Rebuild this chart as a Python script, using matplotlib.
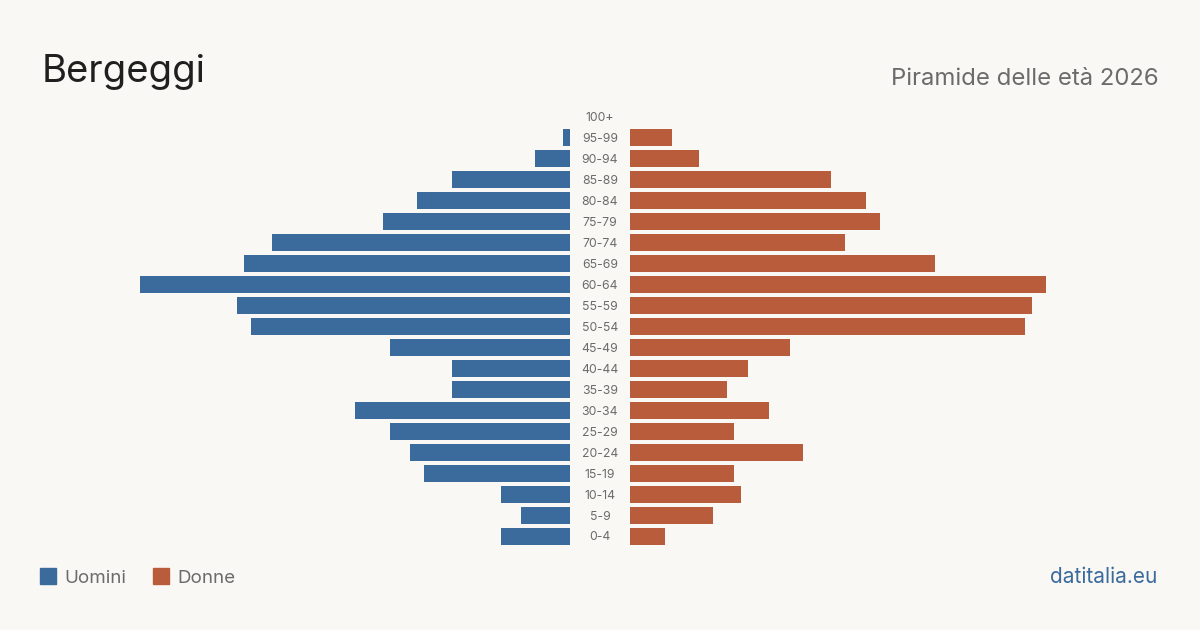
import matplotlib.pyplot as plt
from matplotlib.patches import Rectangle

# fasce d'età dal basso verso l'alto
fasce = ["0-4", "5-9", "10-14", "15-19", "20-24", "25-29", "30-34", "35-39",
         "40-44", "45-49", "50-54", "55-59", "60-64", "65-69", "70-74",
         "75-79", "80-84", "85-89", "90-94", "95-99", "100+"]
uomini = [10, 7, 10, 21, 23, 26, 31, 17, 17, 26, 46, 48, 62, 47, 43, 27, 22, 17, 5, 1, 0]
donne = [5, 12, 16, 15, 25, 15, 20, 14, 17, 23, 57, 58, 60, 44, 31, 36, 34, 29, 10, 6, 0]

BLU = "#3a6b9c"
ROSSO = "#b95c3c"
SFONDO = "#f9f8f4"
GRIGIO = "#6b6b6b"

plt.rcParams['font.family'] = ['Inter', 'DejaVu Sans']

fig = plt.figure(figsize=(12, 6.3), dpi=100, facecolor=SFONDO)

vmax = max(max(uomini), max(donne))
y = list(range(len(fasce)))

ax_l = fig.add_axes([140 / 1200, 1 - 546.5 / 630, 430 / 1200, 440 / 630])
ax_r = fig.add_axes([630 / 1200, 1 - 546.5 / 630, 430 / 1200, 440 / 630])

ax_l.barh(y, uomini, height=0.81, color=BLU)
ax_r.barh(y, donne, height=0.81, color=ROSSO)
ax_l.set_xlim(vmax, 0)
ax_r.set_xlim(0, vmax)

for ax in (ax_l, ax_r):
    ax.set_ylim(-0.5, len(fasce) - 0.5)
    ax.set_facecolor("none")
    ax.axis("off")

# etichette centrali
for i, f in enumerate(fasce):
    ax_r.text(-30 / 430 * vmax, i - 0.07, f, ha="center", va="center",
              fontsize=8.8, color=GRIGIO, clip_on=False)

fig.text(42 / 1200, 1 - 82 / 630, "Bergeggi", fontsize=27.5, color="#1f1f1f",
         ha="left", va="baseline")
fig.text(1159 / 1200, 1 - 85 / 630, "Piramide delle età 2026", fontsize=17.2,
         color=GRIGIO, ha="right", va="baseline")

# legenda
fig.patches.append(Rectangle((40 / 1200, 1 - 584 / 630), 16 / 1200, 16 / 630,
                             transform=fig.transFigure, color=BLU))
fig.text(64 / 1200, 1 - 583 / 630, "Uomini", fontsize=13.5, color=GRIGIO,
         ha="left", va="baseline")
fig.patches.append(Rectangle((153 / 1200, 1 - 584 / 630), 16 / 1200, 16 / 630,
                             transform=fig.transFigure, color=ROSSO))
fig.text(177 / 1200, 1 - 583 / 630, "Donne", fontsize=13.5, color=GRIGIO,
         ha="left", va="baseline")

fig.text(1157 / 1200, 1 - 583 / 630, "datitalia.eu", fontsize=15, color=BLU,
         ha="right", va="baseline")

fig.savefig("out.png", dpi=100, facecolor=SFONDO)
